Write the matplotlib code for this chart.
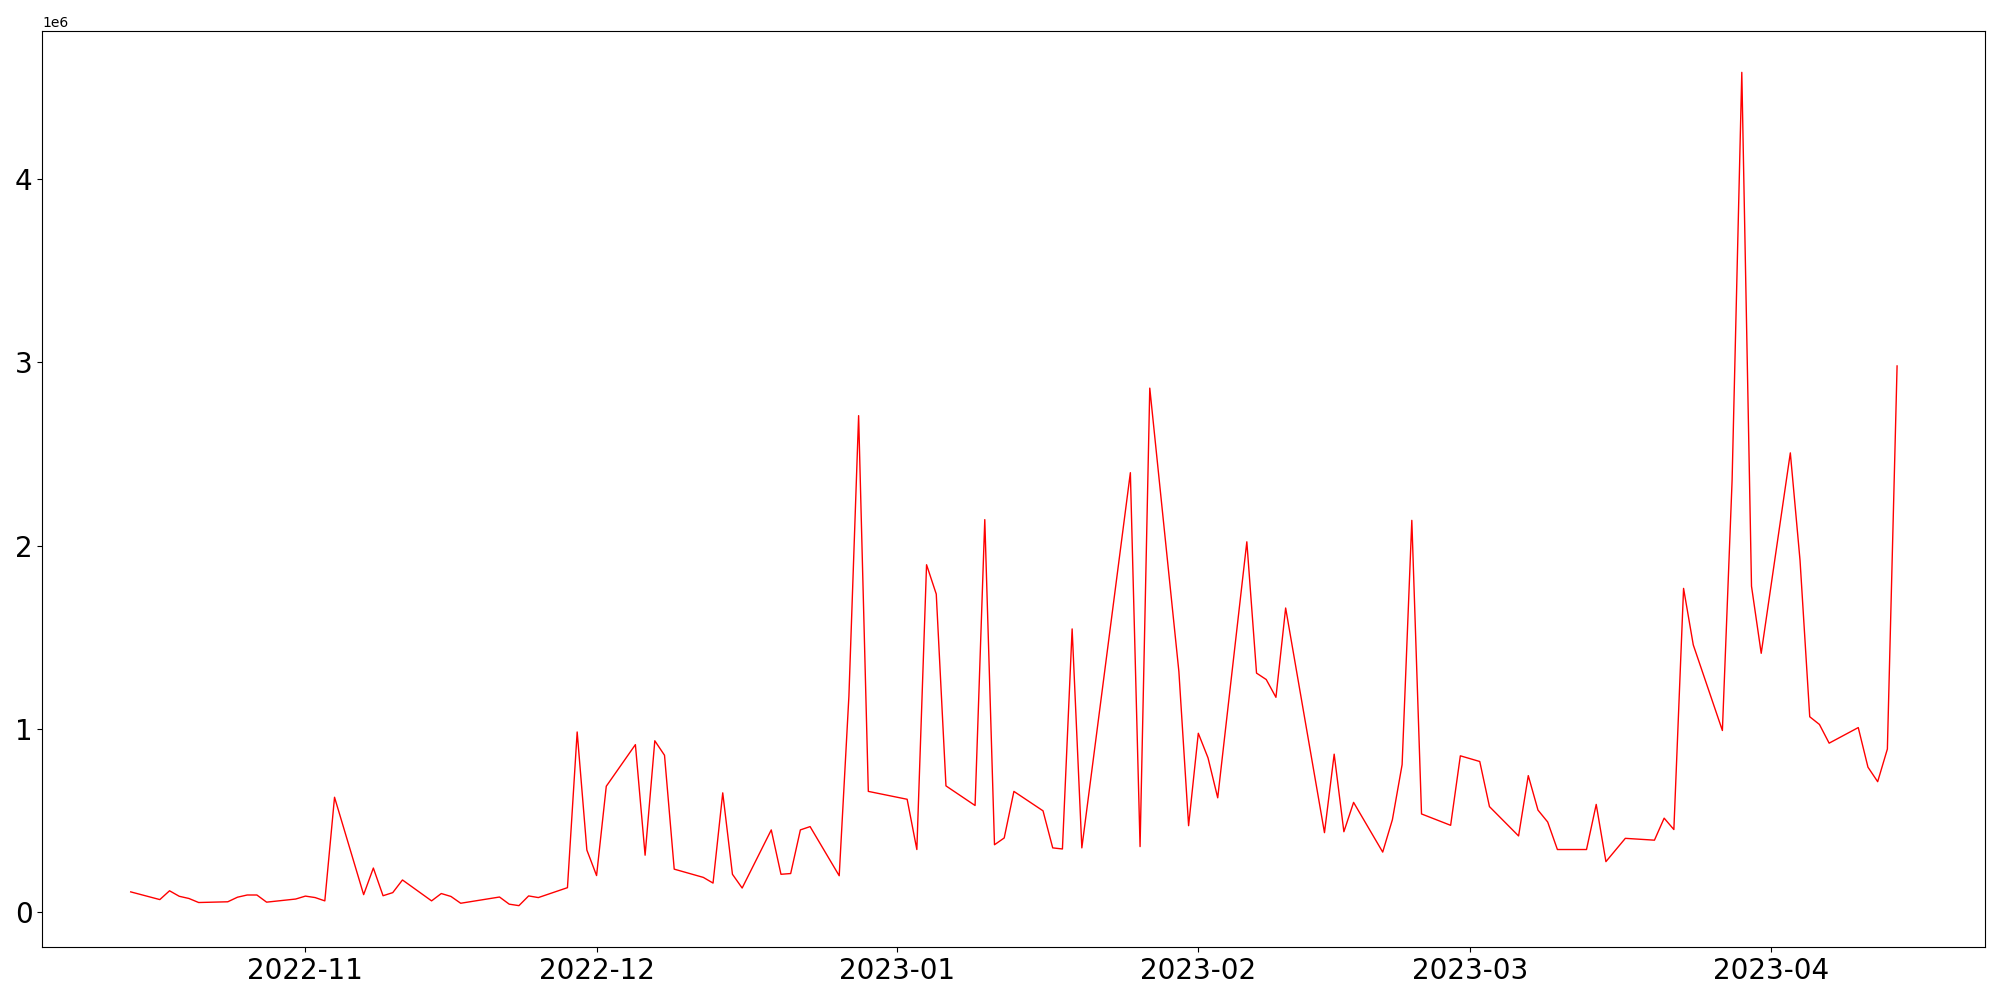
import matplotlib
matplotlib.use("Agg")
import matplotlib.pyplot as plt
import pandas as pd

dates = [
    "2022-10-14", "2022-10-17", "2022-10-18", "2022-10-19", "2022-10-20", "2022-10-21",
    "2022-10-24", "2022-10-25", "2022-10-26", "2022-10-27", "2022-10-28", "2022-10-31",
    "2022-11-01", "2022-11-02", "2022-11-03", "2022-11-04", "2022-11-07", "2022-11-08",
    "2022-11-09", "2022-11-10", "2022-11-11", "2022-11-14", "2022-11-15", "2022-11-16",
    "2022-11-17", "2022-11-21", "2022-11-22", "2022-11-23", "2022-11-24", "2022-11-25",
    "2022-11-28", "2022-11-29", "2022-11-30", "2022-12-01", "2022-12-02", "2022-12-05",
    "2022-12-06", "2022-12-07", "2022-12-08", "2022-12-09", "2022-12-12", "2022-12-13",
    "2022-12-14", "2022-12-15", "2022-12-16", "2022-12-19", "2022-12-20", "2022-12-21",
    "2022-12-22", "2022-12-23", "2022-12-26", "2022-12-27", "2022-12-28", "2022-12-29",
    "2023-01-02", "2023-01-03", "2023-01-04", "2023-01-05", "2023-01-06", "2023-01-09",
    "2023-01-10", "2023-01-11", "2023-01-12", "2023-01-13", "2023-01-16", "2023-01-17",
    "2023-01-18", "2023-01-19", "2023-01-20", "2023-01-25", "2023-01-26", "2023-01-27",
    "2023-01-30", "2023-01-31", "2023-02-01", "2023-02-02", "2023-02-03", "2023-02-06",
    "2023-02-07", "2023-02-08", "2023-02-09", "2023-02-10", "2023-02-14", "2023-02-15",
    "2023-02-16", "2023-02-17", "2023-02-20", "2023-02-21", "2023-02-22", "2023-02-23",
    "2023-02-24", "2023-02-27", "2023-02-28", "2023-03-02", "2023-03-03", "2023-03-06",
    "2023-03-07", "2023-03-08", "2023-03-09", "2023-03-10", "2023-03-13", "2023-03-14",
    "2023-03-15", "2023-03-17", "2023-03-20", "2023-03-21", "2023-03-22", "2023-03-23",
    "2023-03-24", "2023-03-27", "2023-03-28", "2023-03-29", "2023-03-30", "2023-03-31",
    "2023-04-03", "2023-04-04", "2023-04-05", "2023-04-06", "2023-04-07", "2023-04-10",
    "2023-04-11", "2023-04-12", "2023-04-13", "2023-04-14",
]

# values in millions
values = [
    0.112, 0.070, 0.118, 0.088, 0.076, 0.054,
    0.058, 0.083, 0.095, 0.095, 0.056, 0.073,
    0.089, 0.081, 0.063, 0.628, 0.097, 0.242,
    0.091, 0.108, 0.177, 0.063, 0.103, 0.087,
    0.050, 0.084, 0.045, 0.037, 0.090, 0.081,
    0.135, 0.984, 0.340, 0.201, 0.688, 0.915,
    0.312, 0.936, 0.857, 0.236, 0.191, 0.160,
    0.652, 0.208, 0.133, 0.450, 0.208, 0.212,
    0.450, 0.468, 0.200, 1.180, 2.709, 0.660,
    0.617, 0.343, 1.896, 1.736, 0.690, 0.583,
    2.142, 0.369, 0.406, 0.660, 0.554, 0.352,
    0.346, 1.546, 0.352, 2.398, 0.359, 2.859,
    1.313, 0.473, 0.977, 0.843, 0.625, 2.021,
    1.305, 1.270, 1.173, 1.660, 0.435, 0.863,
    0.440, 0.600, 0.329, 0.506, 0.806, 2.138,
    0.537, 0.475, 0.854, 0.823, 0.577, 0.417,
    0.746, 0.558, 0.493, 0.343, 0.343, 0.589,
    0.277, 0.404, 0.394, 0.514, 0.452, 1.767,
    1.459, 0.992, 2.355, 4.581, 1.779, 1.413,
    2.506, 1.920, 1.067, 1.025, 0.923, 1.008,
    0.792, 0.713, 0.891, 2.980,
]

x = pd.to_datetime(dates)
y = [v * 1e6 for v in values]

fig, ax = plt.subplots(figsize=(20, 10), dpi=100)
fig.subplots_adjust(left=0.0212, right=0.9927, bottom=0.0527, top=0.9693)

ax.plot(x, y, color="red", linewidth=1.0)

plt.xticks(fontsize=20)
plt.yticks(fontsize=20)

fig.savefig("out.png", dpi=100)
